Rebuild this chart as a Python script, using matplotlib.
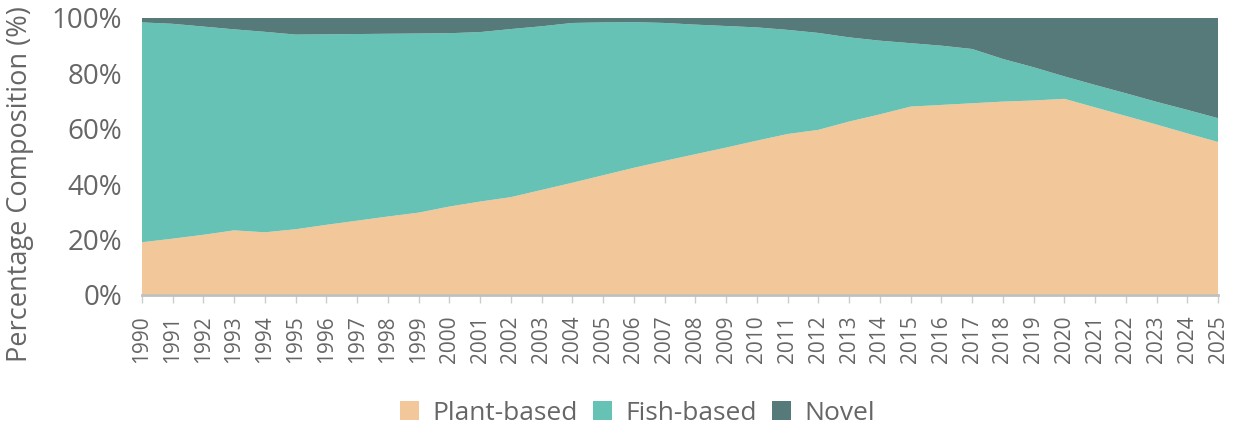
import numpy as np
from matplotlib import pyplot as plt
from matplotlib.ticker import PercentFormatter

years = list(range(1990, 2026))

# top of the plant-based band (%)
plant = [19.0, 20.3, 21.7, 23.3, 22.6, 23.7, 25.3, 26.8, 28.3, 29.7,
         31.9, 33.7, 35.3, 37.9, 40.5, 43.2, 45.9, 48.4, 50.8, 53.2,
         55.7, 58.1, 59.6, 62.6, 65.2, 68.0, 68.6, 69.2, 69.8, 70.2,
         70.8, 67.7, 64.6, 61.5, 58.3, 55.2]
# top of the fish-based band (%)
fish_top = [98.4, 97.9, 96.9, 95.9, 95.0, 94.0, 94.1, 94.2, 94.3, 94.4,
            94.5, 94.9, 96.0, 97.0, 98.2, 98.4, 98.5, 98.2, 97.6, 97.1,
            96.6, 95.7, 94.6, 93.0, 91.8, 90.9, 90.0, 88.8, 85.2, 82.2,
            78.9, 75.8, 72.8, 69.7, 66.8, 63.8]

fish = [t - p for t, p in zip(fish_top, plant)]
novel = [100 - t for t in fish_top]

colors = ['#F2C799', '#66C2B4', '#557A79']
labels = ['Plant-based', 'Fish-based', 'Novel']
grey = '#666666'

plt.rcParams['font.family'] = ['Open Sans', 'DejaVu Sans']

fig = plt.figure(figsize=(12.33, 4.28), dpi=100)
ax = fig.add_axes([0.115, 0.311, 0.873, 0.647])

ax.stackplot(years, plant, fish, novel, colors=colors, labels=labels, linewidth=0)

ax.set_xlim(1990, 2025)
ax.set_ylim(0, 100)
ax.set_xticks(years)
ax.set_xticklabels([str(y) for y in years], rotation=90, fontsize=15, color=grey)
ax.set_yticks([0, 20, 40, 60, 80, 100])
ax.yaxis.set_major_formatter(PercentFormatter(decimals=0))
ax.tick_params(axis='y', length=0, labelsize=20, labelcolor=grey, pad=14)
ax.tick_params(axis='x', length=6, width=1, color='#cccccc', pad=9)
ax.set_ylabel('Percentage Composition (%)', fontsize=19.5, color=grey)
ax.yaxis.set_label_coords(-0.1, 0.40)

for s in ['top', 'right', 'left']:
    ax.spines[s].set_visible(False)
ax.spines['bottom'].set_color('#c0c0c0')
ax.spines['bottom'].set_linewidth(2)

leg = fig.legend(loc='center', bbox_to_anchor=(0.517, 0.035), ncol=3, frameon=False,
                 fontsize=19, handlelength=0.7, handleheight=0.7, handletextpad=0.5,
                 columnspacing=0.6)
for t in leg.get_texts():
    t.set_color(grey)

fig.savefig('out.png', dpi=100)
